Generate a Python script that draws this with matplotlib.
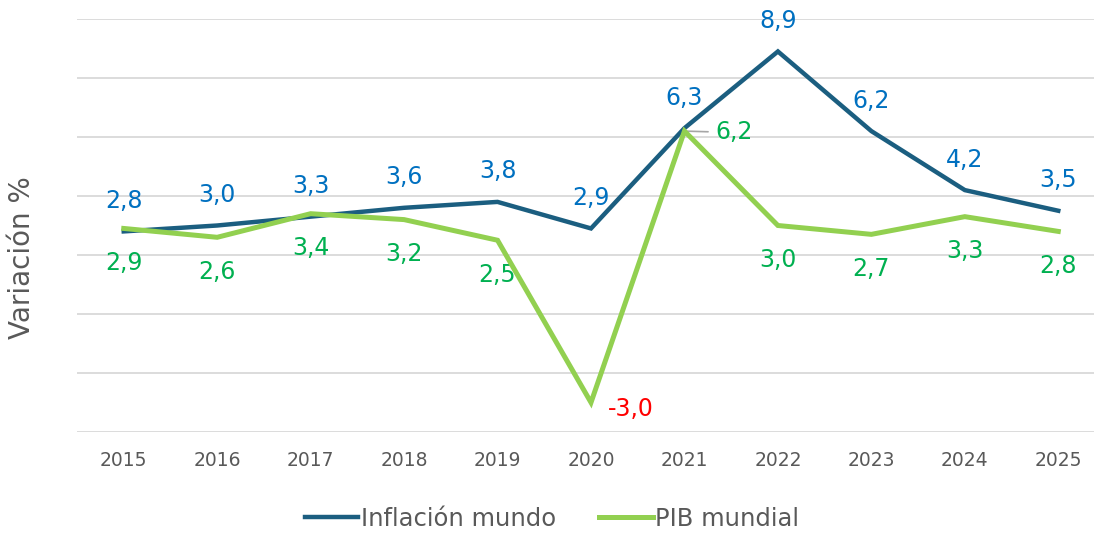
import matplotlib.pyplot as plt

years = ['2015', '2016', '2017', '2018', '2019', '2020', '2021', '2022', '2023', '2024', '2025']
inflacion = [2.8, 3.0, 3.3, 3.6, 3.8, 2.9, 6.3, 8.9, 6.2, 4.2, 3.5]
pib = [2.9, 2.6, 3.4, 3.2, 2.5, -3.0, 6.2, 3.0, 2.7, 3.3, 2.8]

INF_COLOR = '#1B5E80'
PIB_COLOR = '#92D050'
GRAY = '#595959'


def fmt(v):
    return f'{v:.1f}'.replace('.', ',')


def plot_chart():
    fig = plt.figure(figsize=(10.94, 5.34), dpi=100)
    ax = fig.add_axes([77 / 1094, 1 - 432 / 534, 1028 / 1094, 413 / 534])
    x = list(range(len(years)))

    ax.plot(x, inflacion, color=INF_COLOR, lw=3.2, label='Inflación mundo', zorder=3,
            solid_joinstyle='miter')
    ax.plot(x, pib, color=PIB_COLOR, lw=3.6, label='PIB mundial', zorder=4,
            solid_joinstyle='miter')

    for xi, v in zip(x, inflacion):
        ax.annotate(fmt(v), (xi, v), xytext=(0, 22), textcoords='offset points',
                    ha='center', va='center', color='#0070C0', fontsize=17)

    for xi, v in zip(x, pib):
        if v < 0:
            ax.annotate(fmt(v), (xi, v), xytext=(12, -5), textcoords='offset points',
                        ha='left', va='center', color='#FF0000', fontsize=17)
        elif years[xi] == '2021':
            ax.annotate(fmt(v), (xi, v), xytext=(22, -1), textcoords='offset points',
                        ha='left', va='center', color='#00B050', fontsize=17,
                        arrowprops=dict(arrowstyle='-', color='#A6A6A6', lw=1.2,
                                        shrinkA=3, shrinkB=1))
        else:
            ax.annotate(fmt(v), (xi, v), xytext=(0, -25), textcoords='offset points',
                        ha='center', va='center', color='#00B050', fontsize=17)

    ax.set_xlim(-0.5, len(years) - 0.5)
    ax.set_ylim(-4, 10)
    ax.set_yticks(range(-4, 11, 2))
    ax.set_yticklabels([])
    ax.set_xticks(x)
    ax.set_xticklabels(years, color=GRAY, fontsize=13.5)
    ax.tick_params(length=0, pad=14)
    ax.tick_params(axis='y', length=0, pad=0)
    ax.grid(axis='y', color='#D9D9D9', lw=1.3)
    ax.set_axisbelow(True)
    for s in ax.spines.values():
        s.set_visible(False)

    fig.text(22 / 1094, 1 - 258 / 534, 'Variación %', rotation=90, ha='center',
             va='center', color=GRAY, fontsize=20)

    fig.legend(loc='center', bbox_to_anchor=(552 / 1094, 1 - 519 / 534), ncol=2,
               frameon=False, fontsize=17.5, handlelength=2.2, handletextpad=0.1,
               columnspacing=1.8, labelcolor=GRAY)

    fig.savefig('out.png', dpi=100)


def main():
    plot_chart()


if __name__ == "__main__":
    main()
